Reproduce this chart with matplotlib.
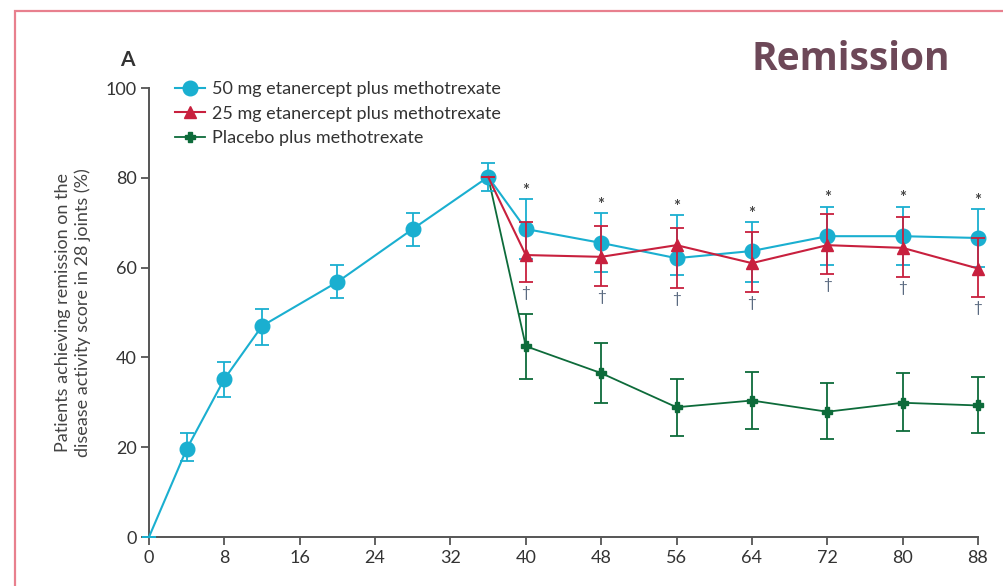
import matplotlib

matplotlib.use("Agg")
import matplotlib.pyplot as plt
from matplotlib.lines import Line2D
from matplotlib.patches import Rectangle

plt.rcParams["font.family"] = ["Lato", "DejaVu Sans"]

# --- data ------------------------------------------------------------------
weeks_50 = [0, 4, 8, 12, 20, 28, 36, 40, 48, 56, 64, 72, 80, 88]
pct_50 = [0, 19.6, 35.2, 47.0, 56.8, 68.6, 80.2, 68.6, 65.5, 62.1, 63.7, 67.0, 67.0, 66.6]
hi_50 = [0, 23.2, 39.0, 50.8, 60.6, 72.2, 83.3, 75.3, 72.2, 71.7, 70.1, 73.6, 73.6, 73.0]
lo_50 = [0, 16.9, 31.2, 42.8, 53.2, 64.8, 77.1, 62.0, 59.0, 58.4, 56.9, 60.5, 60.5, 60.2]

weeks_25 = [36, 40, 48, 56, 64, 72, 80, 88]
pct_25 = [80.2, 62.8, 62.4, 65.0, 61.0, 65.0, 64.4, 59.8]
hi_25 = [80.2, 70.1, 69.3, 68.9, 67.9, 71.9, 71.2, 66.7]
lo_25 = [80.2, 56.9, 55.9, 55.5, 54.5, 58.5, 58.0, 53.4]

weeks_pl = [36, 40, 48, 56, 64, 72, 80, 88]
pct_pl = [80.2, 42.5, 36.5, 28.9, 30.4, 27.9, 29.9, 29.3]
hi_pl = [80.2, 49.6, 43.3, 35.1, 36.8, 34.2, 36.5, 35.7]
lo_pl = [80.2, 35.3, 29.8, 22.5, 24.0, 21.8, 23.6, 23.1]

sig_weeks = [40, 48, 56, 64, 72, 80, 88]  # * vs placebo above, dagger below

labels = [
    "50 mg etanercept plus methotrexate",
    "25 mg etanercept plus methotrexate",
    "Placebo plus methotrexate",
]
x_ticks = list(range(0, 89, 8))
y_ticks = list(range(0, 101, 20))

BLUE = "#1aafd0"
RED = "#c8203e"
GREEN = "#0d6b3a"
AXIS = "#555555"

fig = plt.figure(figsize=(10.04, 5.86), dpi=100)
ax = fig.add_axes([0.1484, 0.0836, 0.8257, 0.7662])

# pink frame of the slide
fig.patches.append(
    Rectangle((15.5 / 1004, -0.1), 1.2, (586 - 10.5) / 586 + 0.1,
              transform=fig.transFigure, fill=False, ec="#e8808e", lw=1.6)
)


def err(vals, hi, lo):
    return [[v - l for v, l in zip(vals, lo)], [h - v for v, h in zip(vals, hi)]]


common = dict(capsize=5, elinewidth=1.3, capthick=1.3, clip_on=False)
# first point of each series is shared (origin / week 36) and has no marker
ax.errorbar(weeks_pl, pct_pl, yerr=err(pct_pl, hi_pl, lo_pl), color=GREEN,
            marker="P", ms=7, lw=1.3, zorder=3, markevery=slice(1, None), **common)
ax.errorbar(weeks_50, pct_50, yerr=err(pct_50, hi_50, lo_50), color=BLUE,
            marker="o", ms=10.5, lw=1.5, zorder=4, markevery=slice(1, None), **common)
ax.errorbar(weeks_25, pct_25, yerr=err(pct_25, hi_25, lo_25), color=RED,
            marker="^", ms=8.5, lw=1.5, zorder=5, markevery=slice(1, None), **common)

# significance marks
for w in sig_weeks:
    top = max(hi_50[weeks_50.index(w)], hi_25[weeks_25.index(w)])
    bot = min(lo_50[weeks_50.index(w)], lo_25[weeks_25.index(w)])
    ax.annotate("*", (w, top), xytext=(0, 6), textcoords="offset points",
                ha="center", va="center", fontsize=12, color="#444444",
                fontweight="bold", annotation_clip=False)
    ax.annotate("\u2020", (w, bot), xytext=(0, -8), textcoords="offset points",
                ha="center", va="center", fontsize=11, color="#5a6a80",
                annotation_clip=False)

ax.set_xlim(0, 88)
ax.set_ylim(0, 100)
ax.set_xticks(x_ticks)
ax.set_yticks(y_ticks)
ax.tick_params(direction="out", length=6, width=1.3, colors=AXIS,
               labelsize=13, labelcolor="#333333", pad=3)
for side in ("top", "right"):
    ax.spines[side].set_visible(False)
for side in ("left", "bottom"):
    ax.spines[side].set_color(AXIS)
    ax.spines[side].set_linewidth(1.4)

ax.set_ylabel("Patients achieving remission on the\ndisease activity score in 28 joints (%)",
              fontsize=13, color="#444444", labelpad=10, linespacing=1.3)

handles = [
    Line2D([], [], color=BLUE, lw=1.5, marker="o", ms=10.5),
    Line2D([], [], color=RED, lw=1.5, marker="^", ms=8.5),
    Line2D([], [], color=GREEN, lw=1.3, marker="P", ms=7),
]
ax.legend(handles, labels, loc="upper left",
          bbox_to_anchor=(175 / 1004, 1 - 81 / 586), bbox_transform=fig.transFigure,
          frameon=False, fontsize=13, handlelength=1.65, handletextpad=0.4,
          labelspacing=0.48, borderpad=0, borderaxespad=0, labelcolor="#333333")

fig.text(127 / 1004, 1 - 60 / 586, "A", fontsize=15, fontweight="bold",
         color="#333333", ha="center", va="center")
fig.text(851 / 1004, 1 - 60 / 586, "Remission", fontsize=28, fontweight="bold",
         color="#6d4858", ha="center", va="center", family=["Open Sans", "DejaVu Sans"])

fig.savefig("out.png", dpi=100)
